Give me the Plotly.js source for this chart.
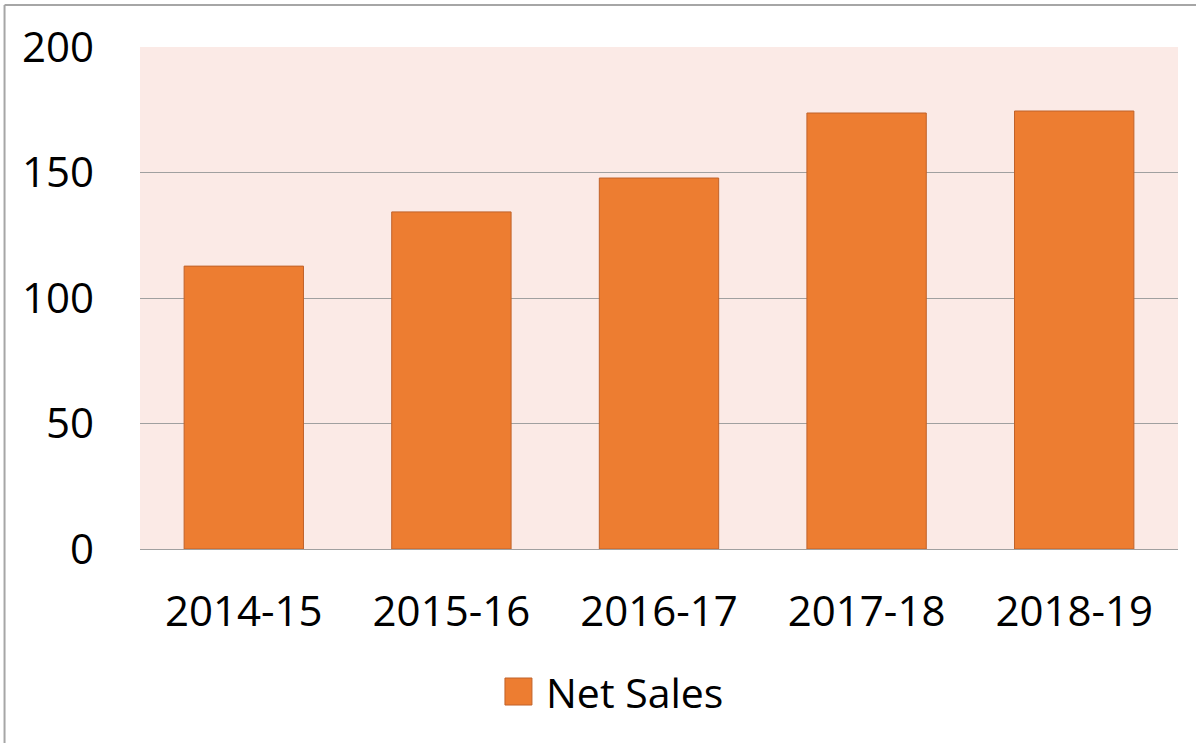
<!DOCTYPE html>
<html>
<head>
<meta charset="utf-8">
<script src="https://cdn.plot.ly/plotly-3.0.1.min.js"></script>
<style>
html,body{margin:0;padding:0;background:#fff;}
#chart{width:1196px;height:743px;}
</style>
</head>
<body>
<div id="chart"></div>
<script>
const categories = ["2014-15", "2015-16", "2016-17", "2017-18", "2018-19"];
const netSales = [112.7, 134.3, 147.8, 173.7, 174.5];
const yTicks = [0, 50, 100, 150, 200];
const seriesName = "Net Sales";
const barColor = "#ED7D31";
const barLine = "#C0622A";

const trace = {
  type: "bar",
  x: categories,
  y: netSales,
  name: seriesName,
  marker: {color: barColor, line: {color: barLine, width: 1}},
  showlegend: false
};

const layout = {
  width: 1196,
  height: 743,
  margin: {l: 140, r: 18, t: 47, b: 194, autoexpand: false},
  paper_bgcolor: "#ffffff",
  plot_bgcolor: "#FBEAE6",
  font: {family: "Open Sans, sans-serif", size: 42, color: "#000"},
  bargap: 0.425,
  xaxis: {
    type: "category",
    automargin: false,
    showgrid: false,
    showline: false,
    ticks: "",
    tickfont: {size: 42},
    ticklabelstandoff: 34
  },
  yaxis: {
    range: [0, 200],
    automargin: false,
    tickvals: yTicks,
    showgrid: true,
    gridcolor: "#A0A0A0",
    gridwidth: 1,
    zeroline: true,
    zerolinecolor: "#A0A0A0",
    zerolinewidth: 1,
    ticks: "",
    tickfont: {size: 42},
    ticklabelstandoff: 45
  },
  showlegend: false,
  shapes: [
    {type: "line", xref: "paper", yref: "paper", x0: -0.1305, x1: 1.1, y0: 1.0837, y1: 1.0837, line: {color: "#A6A6A6", width: 2}},
    {type: "line", xref: "paper", yref: "paper", x0: -0.1305, x1: -0.1305, y0: 1.0837, y1: -0.5, line: {color: "#A6A6A6", width: 2}},
    {type: "rect", xref: "paper", yref: "paper", x0: 0.3516, x1: 0.3776, y0: -0.3108, y1: -0.2570, fillcolor: barColor, line: {color: barLine, width: 1}}
  ],
  annotations: [
    {xref: "paper", yref: "paper", x: 0.3893, y: -0.2849, xanchor: "left", yanchor: "middle", text: seriesName, showarrow: false, font: {size: 41}}
  ]
};

Plotly.newPlot("chart", [trace], layout, {displayModeBar: false, staticPlot: true});
</script>
</body>
</html>
